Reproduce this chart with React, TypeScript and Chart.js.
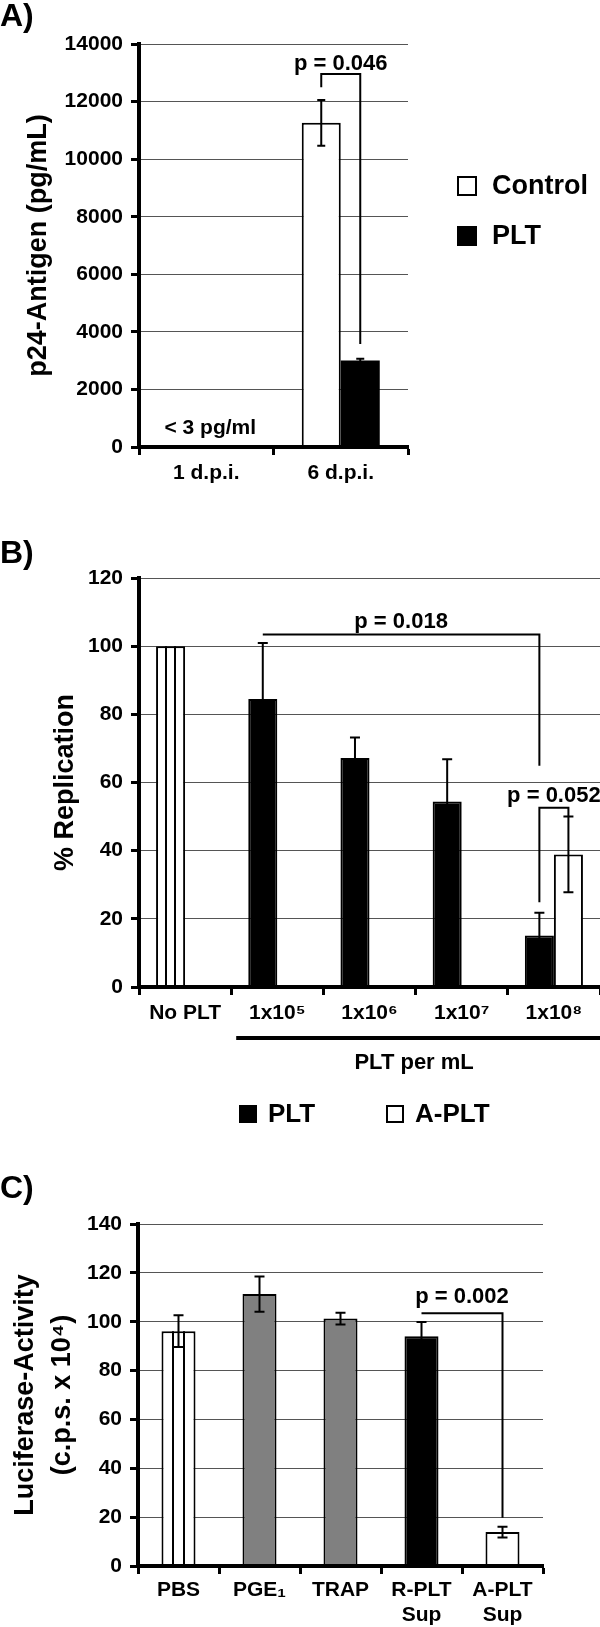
import React, { useEffect, useRef } from 'react';
import { Chart, registerables } from 'chart.js';

Chart.register(...registerables);

const FONT = '"Liberation Sans", Arial, Helvetica, sans-serif';
Chart.defaults.font.family = FONT;

// ---------- Panel A data ----------
const catsA = ['1 d.p.i.', '6 d.p.i.'];
const controlA: (number | null)[] = [null, 11260];
const controlSdA = [0, 795];
const pltA: (number | null)[] = [null, 3005];
const pltSdA = [0, 60];
const yTicksA = { min: 0, max: 14000, step: 2000 };
const bracketA = { y: 12960, leftEnd: 12500, rightEnd: 3580, text: 'p = 0.046', textY: 13300 };
const noteA = { text: '< 3 pg/ml', cat: 0, value: 650 };
const legendA = ['Control', 'PLT'];

// ---------- Panel B data ----------
const catsB = ['No PLT', '1x10\u2075', '1x10\u2076', '1x10\u2077', '1x10\u2078'];
const pltB: (number | null)[] = [100, 84.5, 67.2, 54.4, 15.1];
const pltErrB = [0, 16.4, 6.0, 12.4, 6.7];
const aPltB: (number | null)[] = [null, null, null, null, 38.9];
const aPltErrB = [0, 0, 0, 0, 11.1];
const yTicksB = { min: 0, max: 120, step: 20 };
const bracketB1 = { y: 103.4, leftEnd: 103.4, rightEnd: 64.9, text: 'p = 0.018', textY: 107.2 };
const bracketB2 = { y: 52.6, leftEnd: 24.9, rightEnd: 50, text: 'p = 0.052', textY: 56 };
const groupLabelB = 'PLT per mL';
const legendB = ['PLT', 'A-PLT'];

// ---------- Panel C data ----------
const catsC: (string | string[])[] = ['PBS', 'PGE\u2081', 'TRAP', ['R-PLT', 'Sup'], ['A-PLT', 'Sup']];
const valuesC = [96.1, 111.3, 101.3, 94.1, 13.9];
const errC = [6.5, 7.2, 2.4, 5.8, 2.2];
const yTicksC = { min: 0, max: 140, step: 20 };
const bracketC = { y: 103.5, leftEnd: 103.5, rightEnd: 19.8, text: 'p = 0.002', textY: 110.2 };

// styles
const WHITE = '#ffffff';
const BLACK = '#000000';
const GRAY = '#808080';
const colorsB = [WHITE, BLACK, BLACK, BLACK, BLACK];
const colorsC = [WHITE, GRAY, GRAY, BLACK, WHITE];

function makeExtras(cfg: any) {
  return {
    id: 'extras',
    afterDatasetsDraw(chart: any) {
      const ctx = chart.ctx;
      const ys = chart.scales.y;
      const xs = chart.scales.x;
      ctx.save();
      ctx.strokeStyle = BLACK;
      ctx.fillStyle = BLACK;
      ctx.lineWidth = 2;
      // stripes
      for (const s of cfg.stripes || []) {
        const el = chart.getDatasetMeta(s.ds).data[s.idx];
        if (!el) continue;
        const left = el.x - el.width / 2;
        for (let k = 1; k < 3; k++) {
          const xx = Math.round(left + (el.width * k) / 3);
          ctx.beginPath();
          ctx.moveTo(xx, el.y);
          ctx.lineTo(xx, el.base);
          ctx.stroke();
        }
      }
      // error bars
      for (const e of cfg.errors || []) {
        const data = chart.data.datasets[e.ds].data;
        chart.getDatasetMeta(e.ds).data.forEach((el: any, i: number) => {
          const v = data[i];
          const sd = e.sd[i];
          if (v == null || !sd) return;
          const x = el.x;
          const yHi = ys.getPixelForValue(v + sd);
          const yLo = ys.getPixelForValue(v - sd);
          ctx.beginPath();
          ctx.moveTo(x, yLo);
          ctx.lineTo(x, yHi);
          ctx.moveTo(x - e.cap, yHi);
          ctx.lineTo(x + e.cap, yHi);
          ctx.moveTo(x - e.cap, yLo);
          ctx.lineTo(x + e.cap, yLo);
          ctx.stroke();
        });
      }
      // brackets
      for (const b of cfg.brackets || []) {
        const x1 = chart.getDatasetMeta(b.from[0]).data[b.from[1]].x;
        const x2 = chart.getDatasetMeta(b.to[0]).data[b.to[1]].x;
        const yb = ys.getPixelForValue(b.y);
        ctx.beginPath();
        ctx.moveTo(x1, ys.getPixelForValue(b.leftEnd));
        ctx.lineTo(x1, yb);
        ctx.lineTo(x2, yb);
        ctx.lineTo(x2, ys.getPixelForValue(b.rightEnd));
        ctx.stroke();
        ctx.font = `bold 22px ${FONT}`;
        ctx.textAlign = 'center';
        ctx.textBaseline = 'middle';
        ctx.fillText(b.text, (x1 + x2) / 2, ys.getPixelForValue(b.textY));
      }
      // notes
      for (const n of cfg.notes || []) {
        ctx.font = `bold 21px ${FONT}`;
        ctx.textAlign = 'center';
        ctx.textBaseline = 'middle';
        ctx.fillText(n.text, xs.getPixelForValue(n.cat) + 4, ys.getPixelForValue(n.value));
      }
      ctx.restore();
    },
    afterDraw(chart: any) {
      const ctx = chart.ctx;
      const xs = chart.scales.x;
      const area = chart.chartArea;
      ctx.save();
      ctx.fillStyle = BLACK;
      ctx.strokeStyle = BLACK;
      // panel label
      ctx.font = `bold 32px ${FONT}`;
      ctx.textAlign = 'left';
      ctx.textBaseline = 'middle';
      ctx.fillText(cfg.panel.text, 0, cfg.panel.y);
      // legend
      if (cfg.legend) {
        const L = cfg.legend;
        ctx.font = `bold ${L.font}px ${FONT}`;
        L.items.forEach((it: any) => {
          ctx.fillStyle = it.color;
          ctx.fillRect(it.x, it.y - L.box / 2, L.box, L.box);
          ctx.lineWidth = 2;
          ctx.strokeStyle = BLACK;
          ctx.strokeRect(it.x + 1, it.y - L.box / 2 + 1, L.box - 2, L.box - 2);
          ctx.fillStyle = BLACK;
          ctx.textAlign = 'left';
          ctx.textBaseline = 'middle';
          ctx.fillText(it.label, it.x + L.box + L.gap, it.y + 1);
        });
      }
      // group line + label
      if (cfg.group) {
        const g = cfg.group;
        const cw = xs.getPixelForValue(1) - xs.getPixelForValue(0);
        const x1 = xs.getPixelForValue(g.from) - cw / 2 + 5;
        const x2 = area.right;
        const yl = area.bottom + g.lineOffset;
        ctx.lineWidth = 4;
        ctx.beginPath();
        ctx.moveTo(x1, yl);
        ctx.lineTo(x2, yl);
        ctx.stroke();
        ctx.font = `bold 22px ${FONT}`;
        ctx.textAlign = 'center';
        ctx.textBaseline = 'middle';
        ctx.fillText(g.text, (x1 + x2) / 2 - 4, area.bottom + g.textOffset);
      }
      ctx.restore();
    },
  };
}

function baseOptions(p: any) {
  const tickFont = { family: FONT, size: 21, weight: 'bold' as const };
  return {
    responsive: false,
    animation: false,
    devicePixelRatio: 1,
    layout: { padding: { top: p.padTop, left: 0, right: p.padRight, bottom: 0 } },
    plugins: { legend: { display: false }, tooltip: { enabled: false }, title: { display: false } },
    scales: {
      x: {
        grid: { display: true, drawOnChartArea: false, offset: true, tickLength: 8, tickColor: BLACK, tickWidth: 3 },
        border: { display: true, color: BLACK, width: 4, z: 1 },
        ticks: { color: BLACK, font: tickFont, padding: p.xPad, maxRotation: 0, autoSkip: false },
        afterFit: (s: any) => {
          s.height = p.xHeight;
        },
      },
      y: {
        min: p.ticks.min,
        max: p.ticks.max,
        ticks: { stepSize: p.ticks.step, color: BLACK, font: tickFont, padding: 8, callback: (v: any) => String(v) },
        grid: { color: '#555', lineWidth: 1, tickLength: 8, tickColor: BLACK, tickWidth: 3 },
        border: { display: true, color: BLACK, width: 4, z: 1 },
        title: {
          display: true,
          text: p.title,
          color: BLACK,
          font: { family: FONT, size: 27, weight: 'bold' as const, lineHeight: p.titleLH },
          padding: { top: p.titlePad, bottom: 0 },
        },
        afterFit: (s: any) => {
          s.width = p.yWidth;
        },
      },
    },
  };
}

function configA() {
  return {
    type: 'bar' as const,
    data: {
      labels: catsA,
      datasets: [
        { label: legendA[0], data: controlA, backgroundColor: WHITE, borderColor: BLACK, borderWidth: 2, categoryPercentage: 0.58, barPercentage: 1 },
        { label: legendA[1], data: pltA, backgroundColor: BLACK, borderColor: BLACK, borderWidth: 0, categoryPercentage: 0.58, barPercentage: 1 },
      ],
    },
    options: baseOptions({
      padTop: 44, padRight: 192, xHeight: 53, xPad: 5.4, yWidth: 139, ticks: yTicksA,
      title: 'p24-Antigen (pg/mL)', titleLH: 1.2, titlePad: 22.4,
    }),
    plugins: [
      makeExtras({
        errors: [
          { ds: 0, sd: controlSdA, cap: 4 },
          { ds: 1, sd: pltSdA, cap: 4 },
        ],
        brackets: [{ ...bracketA, from: [0, 1], to: [1, 1] }],
        notes: [noteA],
        panel: { text: 'A)', y: 17 },
        legend: {
          font: 27, box: 20, gap: 15,
          items: [
            { label: legendA[0], color: WHITE, x: 457, y: 186 },
            { label: legendA[1], color: BLACK, x: 457, y: 236 },
          ],
        },
      }),
    ],
  };
}

function configB() {
  return {
    type: 'bar' as const,
    data: {
      labels: catsB,
      datasets: [
        { label: legendB[0], data: pltB, backgroundColor: colorsB, borderColor: BLACK, borderWidth: 2, categoryPercentage: 0.63, barPercentage: 1 },
        { label: legendB[1], data: aPltB, backgroundColor: WHITE, borderColor: BLACK, borderWidth: 2, categoryPercentage: 0.63, barPercentage: 1 },
      ],
    },
    options: baseOptions({
      padTop: 48, padRight: 0, xHeight: 153, xPad: 5.4, yWidth: 139, ticks: yTicksB,
      title: '% Replication', titleLH: 1.2, titlePad: 49.8,
    }),
    plugins: [
      makeExtras({
        stripes: [{ ds: 0, idx: 0 }],
        errors: [
          { ds: 0, sd: pltErrB, cap: 5 },
          { ds: 1, sd: aPltErrB, cap: 5 },
        ],
        brackets: [
          { ...bracketB1, from: [0, 1], to: [0, 4] },
          { ...bracketB2, from: [0, 4], to: [1, 4] },
        ],
        panel: { text: 'B)', y: 24 },
        group: { from: 1, text: groupLabelB, lineOffset: 51, textOffset: 76 },
        legend: {
          font: 26, box: 18, gap: 11,
          items: [
            { label: legendB[0], color: BLACK, x: 239, y: 584 },
            { label: legendB[1], color: WHITE, x: 386, y: 584 },
          ],
        },
      }),
    ],
  };
}

function configC() {
  return {
    type: 'bar' as const,
    data: {
      labels: catsC,
      datasets: [
        { label: 'Luciferase', data: valuesC, backgroundColor: colorsC, borderColor: BLACK, borderWidth: 2, categoryPercentage: 1, barPercentage: 0.42 },
      ],
    },
    options: baseOptions({
      padTop: 84, padRight: 57, xHeight: 61, xPad: 3.4, yWidth: 138, ticks: yTicksC,
      title: ['Luciferase-Activity', '(c.p.s. x 10\u2074)'], titleLH: 1.37, titlePad: 7.5,
    }),
    plugins: [
      makeExtras({
        stripes: [{ ds: 0, idx: 0 }],
        errors: [{ ds: 0, sd: errC, cap: 5 }],
        brackets: [{ ...bracketC, from: [0, 3], to: [0, 4] }],
        panel: { text: 'C)', y: 49 },
      }),
    ],
  };
}

function Panel({ make, top, height }: { make: () => any; top: number; height: number }) {
  const ref = useRef<HTMLCanvasElement | null>(null);
  useEffect(() => {
    const chart = new Chart(ref.current as HTMLCanvasElement, make());
    return () => chart.destroy();
  }, []);
  return (
    <canvas
      ref={ref}
      width={600}
      height={height}
      style={{ position: 'absolute', left: 0, top, width: 600, height }}
    />
  );
}

export default function App() {
  return (
    <div style={{ position: 'absolute', left: 0, top: 0, width: 600, height: 1627, background: '#fff' }}>
      <Panel make={configA} top={0} height={500} />
      <Panel make={configB} top={530} height={610} />
      <Panel make={configC} top={1140} height={487} />
    </div>
  );
}
